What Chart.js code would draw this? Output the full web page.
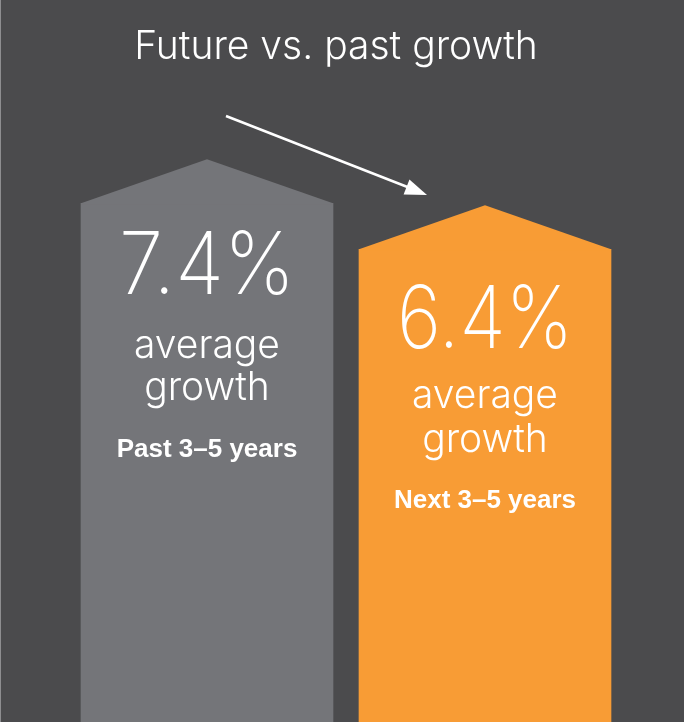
<!DOCTYPE html>
<html>
<head>
<meta charset="utf-8">
<script src="https://cdn.jsdelivr.net/npm/chart.js@4.4.0/dist/chart.umd.min.js"></script>
<style>
  html, body { margin: 0; padding: 0; background: #4b4b4d; }
  #wrap { width: 684px; height: 722px; }
</style>
</head>
<body>
<div id="wrap"><canvas id="growthChart" width="684" height="722"></canvas></div>
<script>
// Chart data
const periods = ['Past 3–5 years', 'Next 3–5 years'];
const growthRates = [7.4, 6.4];
const barColors = ['#747579', '#f89c35'];
const chartTitle = 'Future vs. past growth';
const rateCaption = ['average', 'growth'];

const Y_MIN = -3.88;
const Y_MAX = 11.82;

// text baselines below the bar shoulder, per bar
const textOffsets = [[91, 155, 197, 254], [99, 159, 203, 259]];

// Background, pointed tops, texts and arrow
const decorPlugin = {
    id: 'decor',
    beforeDraw(chart) {
        const ctx = chart.ctx;
        ctx.save();
        ctx.fillStyle = '#4b4b4d';
        ctx.fillRect(0, 0, chart.width, chart.height);
        // thin light edge on the left
        ctx.fillStyle = '#8e8e90';
        ctx.fillRect(0, 0, 1, chart.height);
        ctx.restore();
    },
    afterDatasetsDraw(chart) {
        const ctx = chart.ctx;
        const meta = chart.getDatasetMeta(0);
        ctx.save();

        meta.data.forEach((bar, i) => {
            const half = bar.width / 2;
            const off = textOffsets[i];
            // roof
            ctx.fillStyle = barColors[i];
            ctx.beginPath();
            ctx.moveTo(bar.x - half, bar.y + 1);
            ctx.lineTo(bar.x - half, bar.y);
            ctx.lineTo(bar.x, bar.y - 44);
            ctx.lineTo(bar.x + half, bar.y);
            ctx.lineTo(bar.x + half, bar.y + 1);
            ctx.closePath();
            ctx.fill();

            // texts
            ctx.fillStyle = '#ffffff';
            ctx.textAlign = 'center';
            ctx.textBaseline = 'alphabetic';
            ctx.font = '200 87px Inter, "Open Sans", sans-serif';
            ctx.fillText(growthRates[i].toFixed(1) + '%', bar.x, bar.y + off[0], 176);
            ctx.font = '300 39px Inter, "Open Sans", sans-serif';
            ctx.fillText(rateCaption[0], bar.x, bar.y + off[1]);
            ctx.fillText(rateCaption[1], bar.x, bar.y + off[2]);
            ctx.font = 'bold 26px "Liberation Sans", Arial, sans-serif';
            ctx.fillText(periods[i], bar.x, bar.y + off[3], 188);
        });

        // title
        ctx.fillStyle = '#ffffff';
        ctx.textAlign = 'center';
        ctx.font = '300 39px Inter, "Open Sans", sans-serif';
        ctx.fillText(chartTitle, 336, 59);

        // arrow
        ctx.strokeStyle = '#ffffff';
        ctx.lineWidth = 2.5;
        ctx.beginPath();
        ctx.moveTo(226, 116);
        ctx.lineTo(410, 188);
        ctx.stroke();
        const ang = Math.atan2(195 - 116, 427 - 226);
        const len = 22, wid = 8;
        ctx.fillStyle = '#ffffff';
        ctx.beginPath();
        ctx.moveTo(427, 195);
        ctx.lineTo(427 - len * Math.cos(ang) + wid * Math.sin(ang), 195 - len * Math.sin(ang) - wid * Math.cos(ang));
        ctx.lineTo(427 - len * Math.cos(ang) - wid * Math.sin(ang), 195 - len * Math.sin(ang) + wid * Math.cos(ang));
        ctx.closePath();
        ctx.fill();

        ctx.restore();
    }
};

const chart = new Chart(document.getElementById('growthChart'), {
    type: 'bar',
    data: {
        labels: periods,
        datasets: [{
            data: growthRates,
            backgroundColor: barColors,
            base: Y_MIN,
            barThickness: 252,
            borderWidth: 0
        }]
    },
    options: {
        responsive: false,
        animation: false,
        layout: {
            padding: { left: 68, right: 60, top: 0, bottom: 0 }
        },
        scales: {
            x: { display: false },
            y: { display: false, min: Y_MIN, max: Y_MAX }
        },
        plugins: {
            legend: { display: false },
            tooltip: { enabled: false },
            title: { display: false }
        }
    },
    plugins: [decorPlugin]
});
</script>
</body>
</html>
